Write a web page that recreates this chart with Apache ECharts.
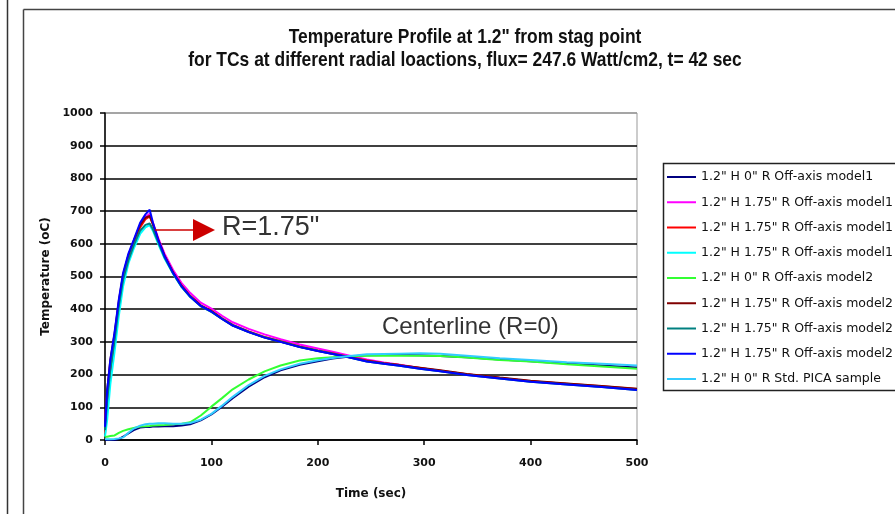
<!DOCTYPE html>
<html><head><meta charset="utf-8">
<script src="https://cdn.jsdelivr.net/npm/echarts@6/dist/echarts.min.js"></script>
<style>html,body{margin:0;padding:0;background:#fff}#c{width:895px;height:514px}</style>
</head><body><div id="c"></div>
<script>
// Time (sec)
const times = [0,2,5,9,13,17,22,27,33,38,42,45,50,56,64,72,80,90,100,110,120,135,150,165,183,200,214,230,246,262,277,296,315,340,371,400,434,467,500];
// Temperature (oC) per series
const m1_0R   = [0,0,0,0,3,10,20,30,38,40,40,41,41,42,42,44,48,60,78,102,128,163,192,213,230,241,249,255,259,260,260,259,257,253,246,241,234,228,222];
const m1_175a = [60,140,235,320,420,500,565,608,655,682,692,665,618,570,520,480,450,420,402,380,360,340,323,308,292,280,270,258,246,237,230,220,212,201,190,180,171,163,155];
const m1_175b = [20,100,200,300,405,490,555,600,650,675,684,660,612,563,512,472,441,412,395,372,352,332,315,302,286,274,265,254,243,235,229,220,212,201,190,180,172,164,156];
const m1_175c = [10,60,170,270,380,470,540,585,630,650,657,640,600,555,508,468,438,410,392,371,351,331,314,301,285,273,264,253,241,234,228,219,211,200,189,179,171,163,154];
const m2_0R   = [10,10,12,14,22,28,33,37,41,42,43,44,45,46,48,50,54,75,102,128,155,185,210,228,243,250,253,256,258,258,258,258,257,252,245,240,232,225,218];
const m2_175a = [50,150,245,325,425,505,565,608,658,680,685,660,612,563,512,471,440,411,394,371,351,331,314,301,285,273,264,253,242,235,229,221,213,202,191,181,173,165,157];
const m2_175b = [30,120,215,305,410,490,550,595,640,658,662,645,605,558,509,468,438,409,392,370,350,330,313,300,284,272,263,252,240,233,227,218,210,199,188,178,170,162,153];
const m2_175c = [40,150,245,330,430,511,570,612,664,690,704,665,612,562,511,470,439,410,393,370,350,330,313,300,284,272,263,252,240,233,227,218,210,199,188,178,170,162,153];
const pica_0R = [3,2,2,3,5,8,22,35,44,48,50,50,51,51,50,50,52,62,80,105,132,168,196,216,233,244,251,257,262,263,264,265,264,258,250,245,238,233,228];

const seriesNames = [
  '1.2" H 0" R Off-axis model1',
  '1.2" H 1.75" R Off-axis model1',
  '1.2" H 1.75" R Off-axis model1',
  '1.2" H 1.75" R Off-axis model1',
  '1.2" H 0" R Off-axis model2',
  '1.2" H 1.75" R Off-axis model2',
  '1.2" H 1.75" R Off-axis model2',
  '1.2" H 1.75" R Off-axis model2',
  '1.2" H 0" R Std. PICA sample'
];
const seriesData = [m1_0R, m1_175a, m1_175b, m1_175c, m2_0R, m2_175a, m2_175b, m2_175c, pica_0R];
const colors = ['#000080','#ff00ff','#ff0000','#00ffff','#33ff33','#800000','#008080','#0000ff','#33ccff'];
const yTicks = [0,100,200,300,400,500,600,700,800,900,1000];
const xTicks = [0,100,200,300,400,500];
const titleLines = ['Temperature Profile at 1.2" from stag point', 'for TCs at different radial loactions, flux= 247.6 Watt/cm2, t= 42 sec'];

// unique names (legend would merge duplicates otherwise)
const uniq = seriesNames.map((n,i)=> n + '\u200b'.repeat(i));

const chart = echarts.init(document.getElementById('c'), null, {renderer:'canvas'});
const tickFont = "'DejaVu Sans', sans-serif";
const titleFont = "bold 21px 'Liberation Sans', Arial, sans-serif";
chart.setOption({
  animation:false,
  color: colors,
  grid:{left:105, right:258, top:113, bottom:74, show:true, borderColor:'#999', borderWidth:1, backgroundColor:'#fff'},
  xAxis:{
    type:'value', min:xTicks[0], max:xTicks[xTicks.length-1], interval:100,
    name:'Time (sec)', nameLocation:'middle', nameGap:48,
    nameTextStyle:{fontSize:12, fontWeight:'bold', color:'#111', fontFamily:tickFont},
    axisLine:{lineStyle:{color:'#000', width:1.5}},
    axisTick:{show:true, length:5, lineStyle:{color:'#000', width:1.5}},
    axisLabel:{fontSize:11, fontWeight:'bold', color:'#111', margin:18, fontFamily:tickFont},
    splitLine:{show:false}
  },
  yAxis:{
    type:'value', min:yTicks[0], max:yTicks[yTicks.length-1], interval:100,
    name:'Temperature (oC)', nameLocation:'middle', nameGap:46, nameRotate:90,
    nameTextStyle:{fontSize:12, fontWeight:'bold', color:'#111', fontFamily:tickFont},
    axisLine:{show:true, lineStyle:{color:'#000', width:1.5}},
    axisTick:{show:true, length:5, lineStyle:{color:'#000', width:1.5}},
    axisLabel:{fontSize:11, fontWeight:'bold', color:'#111', margin:12, fontFamily:tickFont, formatter:(v)=>String(v)},
    splitLine:{show:true, lineStyle:{color:['#000','#000','#000','#000','#000','#000','#000','#000','#000','#000','#999'], width:1.5}}
  },
  legend:{
    orient:'vertical', left:662, top:165, itemWidth:29, itemHeight:2, icon:'rect', itemGap:11.25,
    textStyle:{fontSize:12.5, lineHeight:14, color:'#111', fontFamily:"'DejaVu Sans',sans-serif"},
    data: uniq
  },
  series: seriesData.map((d,i)=>({
    name: uniq[i], type:'line', symbol:'none', showSymbol:false,
    data: times.map((t,k)=>[t, d[k]]),
    lineStyle:{width:2, color: colors[i]}, itemStyle:{color: colors[i]},
    z: 2 + i
  })),
  graphic:[
    {type:'line', shape:{x1:7.5,y1:0,x2:7.5,y2:514}, style:{stroke:'#333', lineWidth:1.5}, silent:true},
    {type:'line', shape:{x1:23.5,y1:9.5,x2:23.5,y2:514}, style:{stroke:'#444', lineWidth:1.5}, silent:true},
    {type:'line', shape:{x1:23.5,y1:9.5,x2:895,y2:9.5}, style:{stroke:'#444', lineWidth:1.5}, silent:true},
    {type:'rect', shape:{x:663.5,y:163.5,width:260,height:227}, style:{fill:'none', stroke:'#222', lineWidth:1.5}, silent:true, z:0},
    {type:'text', x:465, y:37, scaleX:0.83, style:{text:titleLines[0], font:titleFont, fill:'#111', align:'center', verticalAlign:'middle'}, silent:true},
    {type:'text', x:465, y:60, scaleX:0.83, style:{text:titleLines[1], font:titleFont, fill:'#111', align:'center', verticalAlign:'middle'}, silent:true},
    {type:'line', shape:{x1:155,y1:230,x2:195,y2:230}, style:{stroke:'#cc0000', lineWidth:1.5}, silent:true, z:50},
    {type:'polygon', shape:{points:[[193,219],[215,230],[193,241]]}, style:{fill:'#cc0000'}, silent:true, z:50},
    {type:'text', left:222, top:214, style:{text:'R=1.75"', fontSize:27, fill:'#333', fontFamily:"'Liberation Sans',Arial,sans-serif"}, silent:true, z:50},
    {type:'text', left:382, top:315, style:{text:'Centerline (R=0)', fontSize:24, fill:'#333', fontFamily:"'Liberation Sans',Arial,sans-serif"}, silent:true, z:50}
  ]
});
</script></body></html>
